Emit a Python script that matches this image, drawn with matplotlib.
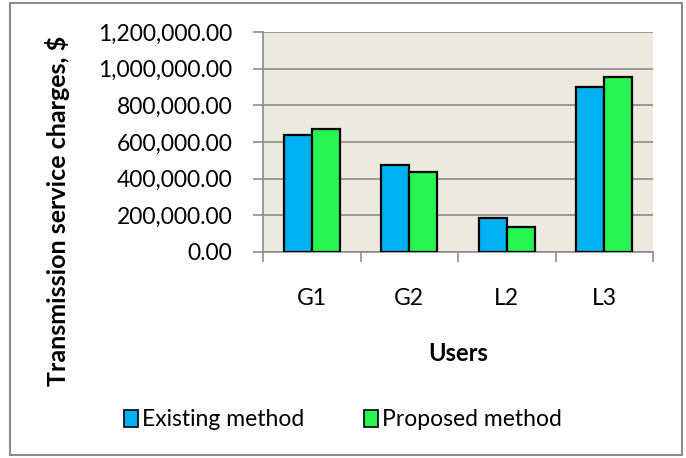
import numpy as np
import matplotlib.pyplot as plt
from matplotlib.patches import Rectangle
from matplotlib.ticker import FuncFormatter

users = ["G1", "G2", "L2", "L3"]
existing = [638000, 473000, 185000, 902000]
proposed = [672000, 436000, 135000, 955000]
series_names = ["Existing method", "Proposed method"]
colors = ["#00B0F0", "#27F552"]

plt.rcParams['font.family'] = ['Lato', 'DejaVu Sans']

fig = plt.figure(figsize=(6.86, 4.58), dpi=100)
ax = fig.add_axes([263 / 686, 1 - 252 / 458, 390 / 686, 220 / 458])
ax.set_facecolor("#ECE9DF")

x = np.arange(len(users))
w = 0.287
ax.bar(x - w / 2, existing, w, color=colors[0], edgecolor="black", linewidth=1.6, zorder=3)
ax.bar(x + w / 2, proposed, w, color=colors[1], edgecolor="black", linewidth=1.6, zorder=3)

ax.set_xlim(-0.5, len(users) - 0.5)
ax.set_ylim(0, 1200000)
ax.set_yticks(np.arange(0, 1200001, 200000))
ax.yaxis.set_major_formatter(FuncFormatter(lambda v, p: f"{v:,.2f}"))
ax.yaxis.grid(True, color="#8C8C8C", linewidth=1.2, zorder=0)

ax.set_xticks(x)
ax.set_xticklabels(users)
ax.set_xticks(np.arange(-0.5, len(users)), minor=True)
ax.tick_params(axis="x", which="major", length=0, pad=26, labelsize=16.5)
ax.tick_params(axis="x", which="minor", length=7, color="#8C8C8C", width=1.2)
ax.tick_params(axis="y", length=7, color="#8C8C8C", width=1.2, labelsize=16.5, pad=15)

for s in ["top", "right"]:
    ax.spines[s].set_visible(False)
for s in ["left", "bottom"]:
    ax.spines[s].set_color("#8C8C8C")
    ax.spines[s].set_linewidth(1.2)

ax.set_xlabel("Users", fontsize=17, fontweight="bold", labelpad=24)
fig.text(58 / 686, 1 - 211 / 458, "Transmission service charges, $", rotation=90,
         ha="center", va="center", fontsize=18, fontweight="bold")

handles = [Rectangle((0, 0), 1, 1, facecolor=c, edgecolor="black", linewidth=1.2) for c in colors]
fig.legend(handles, series_names, loc="center", bbox_to_anchor=(0.5, 1 - 420 / 458),
           ncol=2, frameon=False, fontsize=16.5, handlelength=0.6, handleheight=0.7,
           handletextpad=0.2, columnspacing=2.6)

fig.patches.append(Rectangle((10 / 686, 3 / 458), 672 / 686, 452 / 458, transform=fig.transFigure,
                             fill=False, edgecolor="#8C8C8C", linewidth=1.5))

fig.savefig("out.png", dpi=100)
